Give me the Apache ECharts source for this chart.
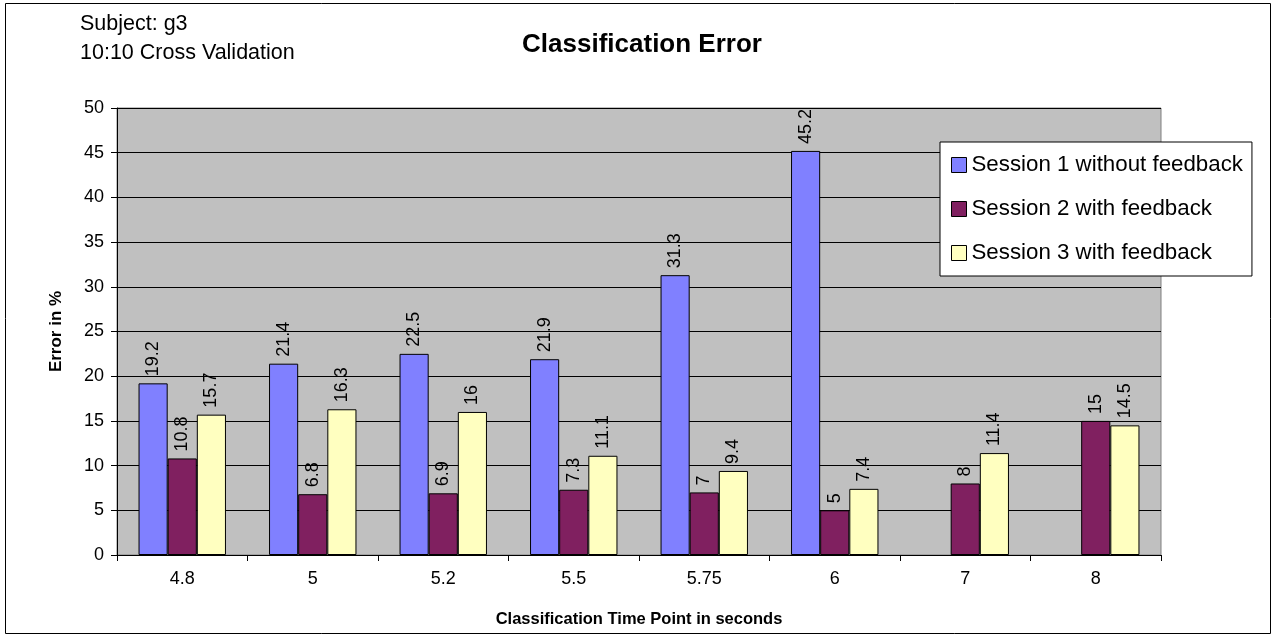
<!DOCTYPE html>
<html><head><meta charset="utf-8">
<script src="https://cdn.jsdelivr.net/npm/echarts@6/dist/echarts.min.js"></script>
<style>html,body{margin:0;padding:0;background:#fff}#c{width:1276px;height:638px}</style>
</head><body><div id="c"></div>
<script>
const categories = ['4.8','5','5.2','5.5','5.75','6','7','8'];
const session1 = [19.2,21.4,22.5,21.9,31.3,45.2,null,null];
const session2 = [10.8,6.8,6.9,7.3,7,5,8,15];
const session3 = [15.7,16.3,16,11.1,9.4,7.4,11.4,14.5];
const seriesNames = ['Session 1 without feedback','Session 2 with feedback','Session 3 with feedback'];
const yTicks = [0,5,10,15,20,25,30,35,40,45,50];

const F = '"Liberation Sans", Arial, sans-serif';
const chart = echarts.init(document.getElementById('c'));
const lbl = {show:true, position:'top', rotate:90, align:'left', verticalAlign:'middle', distance:7, fontFamily:F, fontSize:18, color:'#000'};
const mk = (name, data, color) => ({
  name, type:'bar', data, barGap:'0%', barCategoryGap:'33%',
  itemStyle:{color, borderColor:'#000', borderWidth:1},
  label: lbl
});
chart.setOption({
  animation:false,
  textStyle:{fontFamily:F},
  graphic:[
    {type:'rect', shape:{x:5.5,y:3.5,width:1265,height:630}, style:{fill:'none',stroke:'#000',lineWidth:1}, z:-1},
    {type:'text', left:80, top:10, style:{text:'Subject: g3\n10:10 Cross Validation', font:'21.5px '+F, fill:'#000', lineHeight:29}}
  ],
  title:{text:'Classification Error', left:637, top:27, textAlign:'center', textStyle:{fontFamily:F, fontSize:26, fontWeight:'bold', color:'#000'}},
  legend:{
    orient:'vertical', left:940, top:142, width:312, padding:[12,9,12,11], itemGap:22,
    backgroundColor:'#fff', borderColor:'#000', borderWidth:1,
    itemWidth:15, itemHeight:15, icon:'rect', itemStyle:{borderColor:'#000', borderWidth:1},
    textStyle:{fontFamily:F, fontSize:22.3, color:'#000'},
    data:seriesNames
  },
  grid:{left:117, right:115, top:108, bottom:83, show:true, backgroundColor:'#C0C0C0', borderColor:'#808080', borderWidth:1},
  xAxis:{type:'category', data:categories,
    axisLine:{lineStyle:{color:'#000'}}, axisTick:{show:true, alignWithLabel:false, length:6, lineStyle:{color:'#000'}},
    axisLabel:{fontFamily:F, fontSize:18, color:'#000', margin:15},
    name:'Classification Time Point in seconds', nameLocation:'middle', nameGap:56,
    nameTextStyle:{fontFamily:F, fontSize:16.5, fontWeight:'bold', color:'#000'}},
  yAxis:{type:'value', min:yTicks[0], max:yTicks[yTicks.length-1], interval:5,
    axisLine:{show:true, lineStyle:{color:'#000'}}, axisTick:{show:true, length:6, lineStyle:{color:'#000'}},
    splitLine:{lineStyle:{color:'#000', width:1}},
    axisLabel:{fontFamily:F, fontSize:18, color:'#000', margin:13},
    name:'Error in %', nameLocation:'middle', nameGap:52, nameRotate:90,
    nameTextStyle:{fontFamily:F, fontSize:17, fontWeight:'bold', color:'#000'}},
  series:[
    mk(seriesNames[0], session1, '#8080FF'),
    mk(seriesNames[1], session2, '#802060'),
    mk(seriesNames[2], session3, '#FFFFC0')
  ]
});
</script></body></html>
